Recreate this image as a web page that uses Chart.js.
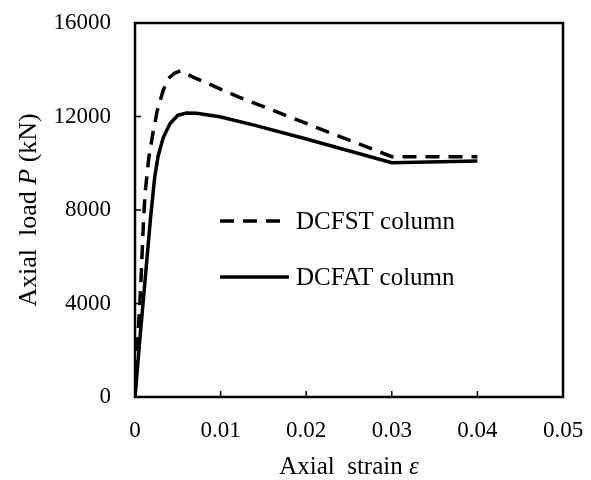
<!DOCTYPE html>
<html>
<head>
<meta charset="utf-8">
<script src="https://cdn.jsdelivr.net/npm/chart.js@4.4.1/dist/chart.umd.min.js"></script>
<style>
  html, body { margin: 0; padding: 0; background: #fff; overflow: hidden; }
  #wrap { width: 591px; height: 480px; }
</style>
</head>
<body>
<div id="wrap"><canvas id="chart"></canvas></div>
<script>
// DCFST column (dashed)
const dcfstStrain = [0, 0.00027, 0.0005, 0.0007, 0.00085, 0.001, 0.0012, 0.0016, 0.0021, 0.0026, 0.0033, 0.0039, 0.0046, 0.0053, 0.0066, 0.012, 0.016, 0.021, 0.030, 0.040];
const dcfstLoad = [0, 2150, 3580, 5000, 6290, 7600, 8800, 10200, 11300, 12250, 13130, 13630, 13850, 13950, 13720, 12850, 12280, 11560, 10280, 10280];
// DCFAT column (solid)
const dcfatStrain = [0, 0.0006, 0.0012, 0.0018, 0.0023, 0.0027, 0.0033, 0.0041, 0.0050, 0.0060, 0.0072, 0.0099, 0.0138, 0.0197, 0.030, 0.040];
const dcfatLoad = [0, 2600, 5100, 7600, 9400, 10300, 11100, 11700, 12050, 12150, 12140, 11990, 11640, 11070, 10020, 10100];

const xTicks = [0, 0.01, 0.02, 0.03, 0.04, 0.05];
const yTicks = [0, 4000, 8000, 12000, 16000];
const seriesNames = ['DCFST column', 'DCFAT column'];

const FONT = '"Liberation Serif", "Times New Roman", serif';

function toPoints(xs, ys) {
    return xs.map((x, i) => ({x: x, y: ys[i]}));
}

// frame box + inward tick marks
const framePlugin = {
    id: 'frame',
    afterDatasetsDraw(chart) {
        const {ctx, chartArea: a, scales} = chart;
        ctx.save();
        ctx.strokeStyle = '#000';
        ctx.lineWidth = 2.5;
        ctx.strokeRect(a.left, a.top, a.right - a.left, a.bottom - a.top);
        ctx.lineWidth = 1.5;
        ctx.beginPath();
        xTicks.forEach(v => {
            const px = scales.x.getPixelForValue(v);
            ctx.moveTo(px, a.bottom);
            ctx.lineTo(px, a.bottom - 6);
        });
        yTicks.forEach(v => {
            const py = scales.y.getPixelForValue(v);
            ctx.moveTo(a.left, py);
            ctx.lineTo(a.left + 6, py);
        });
        ctx.stroke();
        ctx.restore();
    }
};

// legend inside the plot + axis titles with italic symbols
const labelPlugin = {
    id: 'labels',
    afterDraw(chart) {
        const {ctx, chartArea: a} = chart;
        ctx.save();
        ctx.fillStyle = '#000';
        ctx.strokeStyle = '#000';
        ctx.lineWidth = 3.5;

        // legend
        const rows = [{y: 221, dash: [14, 9]}, {y: 277, dash: []}];
        rows.forEach((r, i) => {
            ctx.setLineDash(r.dash);
            ctx.beginPath();
            ctx.moveTo(220, r.y);
            ctx.lineTo(289, r.y);
            ctx.stroke();
            ctx.setLineDash([]);
            ctx.font = '25px ' + FONT;
            ctx.textBaseline = 'middle';
            ctx.textAlign = 'left';
            ctx.fillText(seriesNames[i], 296, r.y + 1);
        });

        // mixed-style text helper
        function drawParts(parts, cx, cy) {
            let w = 0;
            parts.forEach(p => { ctx.font = p.f; w += ctx.measureText(p.t).width; });
            let x = cx - w / 2;
            parts.forEach(p => {
                ctx.font = p.f;
                ctx.fillText(p.t, x, cy);
                x += ctx.measureText(p.t).width;
            });
        }
        ctx.textAlign = 'left';
        ctx.textBaseline = 'middle';
        drawParts([
            {t: 'Axial  strain ', f: '25px ' + FONT},
            {t: 'ε', f: 'italic 25px ' + FONT}
        ], (a.left + a.right) / 2, 467);

        ctx.translate(29, (a.top + a.bottom) / 2);
        ctx.rotate(-Math.PI / 2);
        drawParts([
            {t: 'Axial  load ', f: '26px ' + FONT},
            {t: 'P', f: 'italic 26px ' + FONT},
            {t: ' (kN)', f: '26px ' + FONT}
        ], 0, 0);
        ctx.restore();
    }
};

const ctx = document.getElementById('chart');
new Chart(ctx, {
    type: 'line',
    data: {
        datasets: [
            {
                label: seriesNames[0],
                data: toPoints(dcfstStrain, dcfstLoad),
                borderColor: '#000',
                borderWidth: 3.5,
                borderDash: [14, 9],
                pointRadius: 0,
                tension: 0,
                fill: false
            },
            {
                label: seriesNames[1],
                data: toPoints(dcfatStrain, dcfatLoad),
                borderColor: '#000',
                borderWidth: 3.5,
                pointRadius: 0,
                tension: 0,
                fill: false
            }
        ]
    },
    options: {
        responsive: true,
        maintainAspectRatio: false,
        animation: false,
        layout: {
            padding: {left: 0, top: 23, right: 28, bottom: 0}
        },
        plugins: {
            legend: {display: false},
            tooltip: {enabled: false}
        },
        scales: {
            x: {
                type: 'linear',
                min: 0,
                max: 0.05,
                afterBuildTicks: (scale) => { scale.ticks = xTicks.map(v => ({value: v})); },
                afterFit: (scale) => {
                    scale.height = 83;
                    scale.paddingLeft = 0;
                    scale.paddingRight = 0;
                },
                ticks: {
                    color: '#000',
                    padding: 20,
                    font: {family: FONT, size: 23},
                    callback: (v) => String(v)
                },
                grid: {display: false, drawTicks: false},
                border: {display: false}
            },
            y: {
                type: 'linear',
                min: 0,
                max: 16000,
                afterBuildTicks: (scale) => { scale.ticks = yTicks.map(v => ({value: v})); },
                afterFit: (scale) => {
                    scale.width = 135;
                    scale.paddingTop = 0;
                    scale.paddingBottom = 0;
                },
                ticks: {
                    color: '#000',
                    padding: 24,
                    font: {family: FONT, size: 23},
                    callback: (v) => String(v)
                },
                grid: {display: false, drawTicks: false},
                border: {display: false}
            }
        }
    },
    plugins: [framePlugin, labelPlugin]
});
</script>
</body>
</html>
